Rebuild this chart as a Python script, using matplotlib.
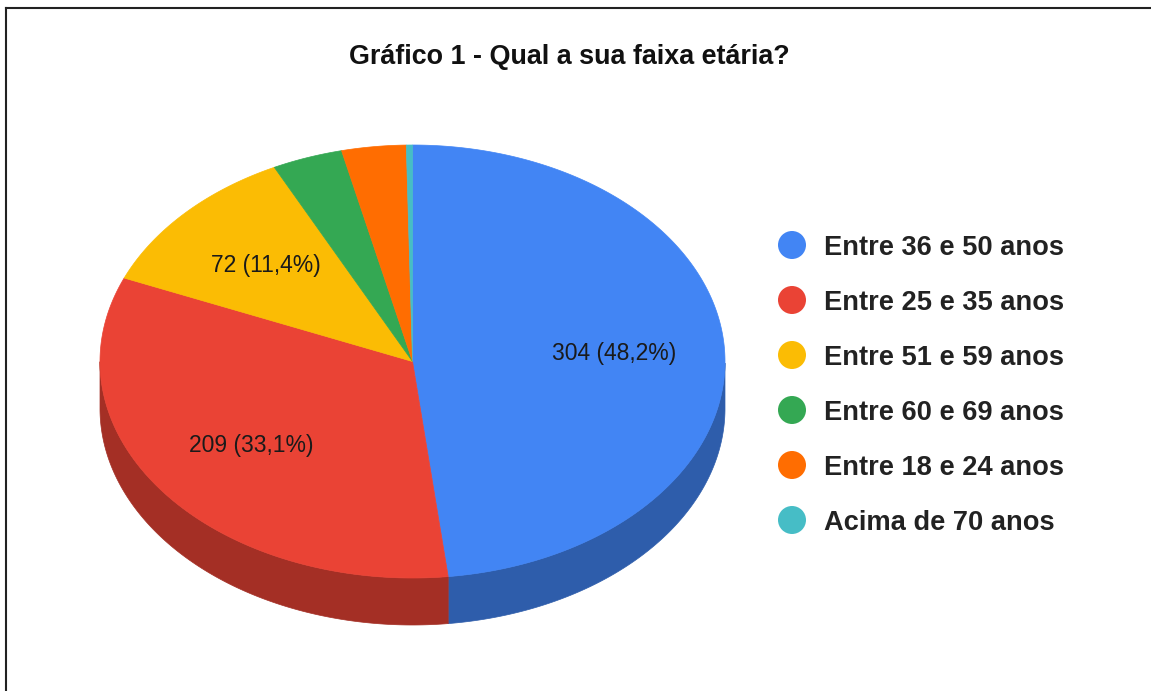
import numpy as np
import matplotlib
matplotlib.use("Agg")
import matplotlib.pyplot as plt
from matplotlib.patches import Polygon, Circle
from matplotlib.lines import Line2D

title = "Gráfico 1 - Qual a sua faixa etária?"
categories = ["Entre 36 e 50 anos", "Entre 25 e 35 anos", "Entre 51 e 59 anos",
              "Entre 60 e 69 anos", "Entre 18 e 24 anos", "Acima de 70 anos"]
values = [304, 209, 72, 23, 21, 2]
colors = ["#4285F4", "#EA4335", "#FBBC04", "#34A853", "#FF6D01", "#46BDC6"]
side_colors = ["#2E5DAB", "#A42F25", "#B08403", "#247639", "#B34C01", "#31848B"]

W, H = 1151, 691
fig = plt.figure(figsize=(W / 100, H / 100), dpi=100)
ax = fig.add_axes([0, 0, 1, 1])
ax.set_xlim(0, W)
ax.set_ylim(H, 0)
ax.axis("off")

cx, cy, rx, ry, depth = 412.5, 361.5, 312.5, 216.5, 47

def pt(theta_deg, dy=0.0, r=1.0):
    t = np.radians(theta_deg)
    return cx + r * rx * np.cos(t), cy - r * ry * np.sin(t) + dy

total = float(sum(values))
angles = []
start = 90.0
for v in values:
    sweep = 360.0 * v / total
    angles.append((start, start - sweep))
    start -= sweep

# side walls (visible where sin(theta) < 0)
for (a1, a2), sc in zip(angles, side_colors):
    th = np.linspace(a1, a2, 400)
    s = np.sin(np.radians(th))
    vis = th[s < 0]
    if len(vis) < 2:
        continue
    top = [pt(t) for t in vis]
    bot = [pt(t, depth) for t in vis[::-1]]
    ax.add_patch(Polygon(top + bot, closed=True, facecolor=sc, edgecolor=sc, lw=0.5, zorder=1))

# top face
for (a1, a2), c in zip(angles, colors):
    th = np.linspace(a1, a2, max(3, int(abs(a1 - a2) * 3)))
    poly = [(cx, cy)] + [pt(t) for t in th]
    ax.add_patch(Polygon(poly, closed=True, facecolor=c, edgecolor=c, lw=0.5, zorder=2))

# labels
for i, ((a1, a2), v) in enumerate(zip(angles, values)):
    pct = 100.0 * v / total
    if pct < 5:
        continue
    mid = (a1 + a2) / 2
    x, y = pt(mid, r=0.645)
    lab = f"{v} ({pct:.1f}%)".replace(".", ",")
    ax.text(x, y, lab, ha="center", va="center", fontsize=16.5,
            family="Liberation Sans", color="#1a1a1a", zorder=3)

# title
ax.text(569, 64, title, ha="center", va="baseline", fontsize=19.4,
        family="Liberation Sans", fontweight="bold", color="#111111")

# legend
for i, (cat, c) in enumerate(zip(categories, colors)):
    yy = 245 + 55 * i
    ax.add_patch(Circle((792, yy), 14, facecolor=c, edgecolor="none", zorder=3))
    ax.text(824, yy + 10, cat, ha="left", va="baseline", fontsize=19.6,
            family="Liberation Sans", fontweight="bold", color="#222222")

# border
ax.add_line(Line2D([6, W], [8, 8], color="#222222", lw=1.5))
ax.add_line(Line2D([6, 6], [8, H], color="#222222", lw=1.5))

fig.savefig("out.png", dpi=100, facecolor="white")
